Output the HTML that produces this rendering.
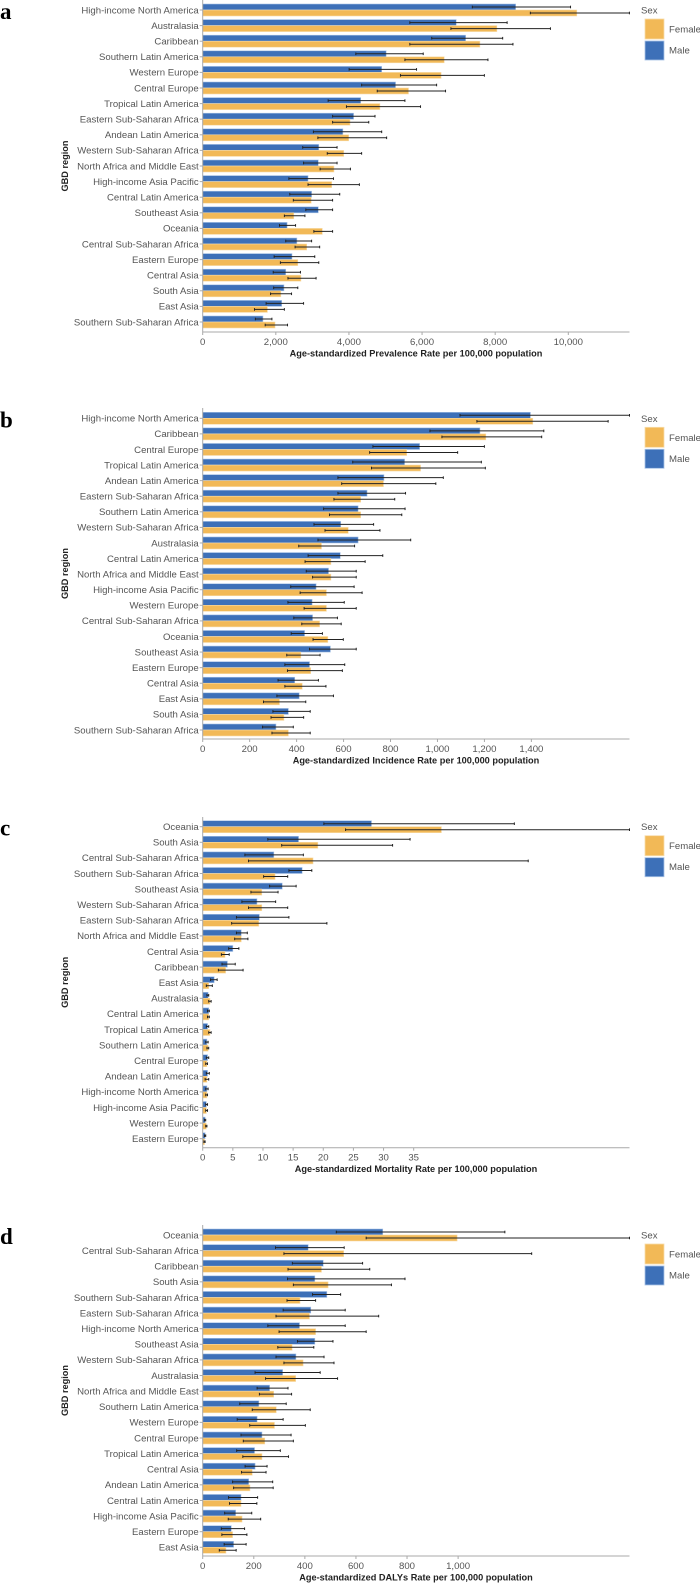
<!DOCTYPE html>
<html><head><meta charset="utf-8">
<style>
html,body{margin:0;padding:0;background:#fff;}
svg{display:block;font-family:"Liberation Sans",Arial,sans-serif;}
</style></head>
<body>
<svg id="chart" width="700" height="1584" viewBox="0 0 700 1584" xmlns="http://www.w3.org/2000/svg"></svg>
<script>
// ---- Panel a: Prevalence ----
const catsA=["High-income North America","Australasia","Caribbean","Southern Latin America","Western Europe","Central Europe","Tropical Latin America","Eastern Sub-Saharan Africa","Andean Latin America","Western Sub-Saharan Africa","North Africa and Middle East","High-income Asia Pacific","Central Latin America","Southeast Asia","Oceania","Central Sub-Saharan Africa","Eastern Europe","Central Asia","South Asia","East Asia","Southern Sub-Saharan Africa"];
const maleA=[8560,6935,7192,5018,4896,5275,4322,4127,3834,3175,3162,2881,2979,3162,2308,2576,2442,2271,2222,2161,1648];
const maleLoA=[7375,5665,6264,4188,4005,4347,3431,3553,3028,2735,2759,2357,2381,2820,2100,2271,1954,1929,1941,1734,1441];
const maleHiA=[10061,8327,8205,6032,5849,6398,5531,4713,4896,3675,3675,3578,3748,3553,2540,2979,3065,2674,2601,2759,1893];
const femaleA=[10232,8046,7582,6606,6520,5629,4847,4029,3993,3858,3590,3529,2967,2491,3272,2845,2601,2686,2137,1770,1978];
const femaleLoA=[8962,6789,5665,5531,5409,4774,3932,3553,3150,3407,3211,2881,2479,2234,3040,2527,2125,2332,1856,1416,1709];
const femaleHiA=[11672,9512,8486,7802,7705,6642,5958,4542,5031,4347,4041,4286,3553,2796,3553,3199,3175,3101,2430,2234,2320];
const ticksA=[0,2000,4000,6000,8000,10000];
const tickLabelsA=["0","2,000","4,000","6,000","8,000","10,000"];

// ---- Panel b: Incidence ----
const catsB=["High-income North America","Caribbean","Central Europe","Tropical Latin America","Andean Latin America","Eastern Sub-Saharan Africa","Southern Latin America","Western Sub-Saharan Africa","Australasia","Central Latin America","North Africa and Middle East","High-income Asia Pacific","Western Europe","Central Sub-Saharan Africa","Oceania","Southeast Asia","Eastern Europe","Central Asia","East Asia","South Asia","Southern Sub-Saharan Africa"];
const maleB=[1396,1181,924,860,772,700,662,588,662,586,536,483,466,468,434,544,455,392,411,365,312];
const maleLoB=[1096,968,725,639,576,576,515,474,491,449,441,375,363,388,377,455,350,321,316,299,255];
const maleHiB=[1818,1453,1200,1187,1025,864,862,728,886,767,654,645,603,574,510,654,605,493,557,458,386];
const femaleB=[1406,1206,869,928,770,673,673,620,506,546,546,527,527,498,533,418,460,424,327,346,365];
const femaleLoB=[1168,1019,711,719,592,559,540,521,409,436,468,415,432,422,470,358,361,350,259,291,295];
const femaleHiB=[1727,1444,1086,1204,993,818,848,755,647,692,654,679,654,590,599,500,595,525,439,430,458];
const ticksB=[0,200,400,600,800,1000,1200,1400];
const tickLabelsB=["0","200","400","600","800","1,000","1,200","1,400"];

// ---- Panel c: Mortality ----
const catsC=["Oceania","South Asia","Central Sub-Saharan Africa","Southern Sub-Saharan Africa","Southeast Asia","Western Sub-Saharan Africa","Eastern Sub-Saharan Africa","North Africa and Middle East","Central Asia","Caribbean","East Asia","Australasia","Central Latin America","Tropical Latin America","Southern Latin America","Central Europe","Andean Latin America","High-income North America","High-income Asia Pacific","Western Europe","Eastern Europe"];
const maleC=[28.0,15.9,11.8,16.5,13.2,9.0,9.4,6.4,5.0,4.1,1.9,0.9,1.0,0.8,0.7,0.8,0.8,0.7,0.6,0.4,0.4];
const maleLoC=[20.1,10.8,7.0,14.3,11.1,6.5,5.6,5.6,4.3,3.2,1.3,0.7,0.8,0.6,0.5,0.6,0.6,0.5,0.5,0.3,0.3];
const maleHiC=[51.7,34.4,16.7,18.1,15.5,12.1,14.3,7.4,6.0,5.4,2.4,1.0,1.1,1.0,0.9,1.0,1.1,0.9,0.8,0.5,0.5];
const femaleC=[39.6,19.1,18.3,12.0,9.8,9.8,9.3,6.4,3.7,3.8,1.0,1.2,1.0,1.2,0.9,0.7,0.7,0.7,0.6,0.6,0.3];
const femaleLoC=[23.7,13.1,7.6,10.1,8.0,7.6,4.8,5.3,3.1,2.6,0.6,1.0,0.8,1.0,0.7,0.5,0.4,0.5,0.5,0.5,0.2];
const femaleHiC=[70.8,31.5,54.0,14.1,12.5,14.1,20.6,7.5,4.4,6.7,1.6,1.4,1.1,1.4,1.0,0.8,1.0,0.8,0.8,0.7,0.4];
const ticksC=[0,5,10,15,20,25,30,35];
const tickLabelsC=["0","5","10","15","20","25","30","35"];

// ---- Panel d: DALYs ----
const catsD=["Oceania","Central Sub-Saharan Africa","Caribbean","South Asia","Southern Sub-Saharan Africa","Eastern Sub-Saharan Africa","High-income North America","Southeast Asia","Western Sub-Saharan Africa","Australasia","North Africa and Middle East","Southern Latin America","Western Europe","Central Europe","Tropical Latin America","Central Asia","Andean Latin America","Central Latin America","High-income Asia Pacific","Eastern Europe","East Asia"];
const maleD=[705,413,472,439,486,423,379,439,365,313,262,220,213,232,203,205,180,150,129,112,121];
const maleLoD=[523,285,351,332,430,315,255,371,287,205,213,145,135,150,133,166,117,101,86,73,84];
const maleHiD=[1183,554,626,792,540,558,558,510,475,460,334,327,315,346,304,252,274,215,192,164,170];
const femaleD=[996,552,465,491,381,418,442,350,393,364,278,288,281,243,232,194,185,150,154,117,91];
const femaleLoD=[640,318,334,355,330,287,299,294,318,246,222,194,184,159,157,152,121,105,100,75,65];
const femaleHiD=[1671,1288,654,739,442,689,640,435,514,528,348,421,402,355,336,248,276,212,227,173,131];
const ticksD=[0,200,400,600,800,1000];
const tickLabelsD=["0","200","400","600","800","1,000"];

const NS="http://www.w3.org/2000/svg";
const svg=document.getElementById('chart');
const MALE="#3d70b8", FEMALE="#f2b957", GRID="#a9a9a9", TXT="#555";
function mk(tag,attrs,parent){const e=document.createElementNS(NS,tag);for(const k in attrs)e.setAttribute(k,attrs[k]);(parent||svg).appendChild(e);return e;}

const panels=[
 {id:"a",letter:"a",top:0,first:10,last:322,axisY:332,max:11674,cats:catsA,m:maleA,mlo:maleLoA,mhi:maleHiA,f:femaleA,flo:femaleLoA,fhi:femaleHiA,ticks:ticksA,tl:tickLabelsA,title:"Age-standardized Prevalence Rate per 100,000 population"},
 {id:"b",letter:"b",top:408,first:418.3,last:730,axisY:739,max:1818,cats:catsB,m:maleB,mlo:maleLoB,mhi:maleHiB,f:femaleB,flo:femaleLoB,fhi:femaleHiB,ticks:ticksB,tl:tickLabelsB,title:"Age-standardized Incidence Rate per 100,000 population"},
 {id:"c",letter:"c",top:817,first:826.7,last:1138.7,axisY:1147.7,max:70.8,cats:catsC,m:maleC,mlo:maleLoC,mhi:maleHiC,f:femaleC,flo:femaleLoC,fhi:femaleHiC,ticks:ticksC,tl:tickLabelsC,title:"Age-standardized Mortality Rate per 100,000 population"},
 {id:"d",letter:"d",top:1225,first:1235,last:1547.3,axisY:1556,max:1671,cats:catsD,m:maleD,mlo:maleLoD,mhi:maleHiD,f:femaleD,flo:femaleLoD,fhi:femaleHiD,ticks:ticksD,tl:tickLabelsD,title:"Age-standardized DALYs Rate per 100,000 population"}
];
const X0=202.7, X1=629.5;

panels.forEach(p=>{
  const g=mk('g',{});
  
  
  const x=v=>X0+(v/p.max)*(X1-X0);
  const step=(p.last-p.first)/(p.cats.length-1);
  const y=i=>p.first+i*step;
  // panel letter
  const L=mk('text',{x:0,y:p.first+9,'font-family':'"Liberation Serif",serif','font-weight':'bold','font-size':'23',fill:'#000'},g);
  L.textContent=p.letter;
  
  
  // bars
  p.cats.forEach((c,i)=>{
    const cy=y(i);
    const mb=mk('rect',{x:X0,y:cy-6,width:Math.max(0,x(p.m[i])-X0),height:6,fill:MALE,stroke:'#a9c3e6','stroke-width':0.6},g);
    
    
    const fb=mk('rect',{x:X0,y:cy,width:Math.max(0,x(p.f[i])-X0),height:6,fill:FEMALE,stroke:'#f8dcaa','stroke-width':0.6},g);
    
    
    [[p.mlo[i],p.mhi[i],cy-3],[p.flo[i],p.fhi[i],cy+3]].forEach((e,k)=>{
      const eg=mk('g',{stroke:'#222','stroke-width':1},g);
      
      
      mk('line',{x1:x(e[0]),x2:x(e[1]),y1:e[2],y2:e[2]},eg);
      mk('line',{x1:x(e[0]),x2:x(e[0]),y1:e[2]-1.3,y2:e[2]+1.3},eg);
      mk('line',{x1:x(e[1]),x2:x(e[1]),y1:e[2]-1.3,y2:e[2]+1.3},eg);
    });
    mk('line',{x1:X0-3,x2:X0,y1:cy,y2:cy,stroke:GRID,'stroke-width':1},g);
    const t=mk('text',{x:X0-4,y:cy+3.3,'text-anchor':'end','font-size':'9.6',fill:TXT},g);
    t.textContent=c;
    
    
  });
  // axes
  const ya=mk('line',{x1:X0,x2:X0,y1:p.top,y2:p.axisY,stroke:GRID,'stroke-width':1},g);
  
  
  const xa=mk('line',{x1:X0,x2:X1,y1:p.axisY,y2:p.axisY,stroke:GRID,'stroke-width':1},g);
  
  
  p.ticks.forEach((tv,i)=>{
    mk('line',{x1:x(tv),x2:x(tv),y1:p.axisY,y2:p.axisY+3,stroke:GRID,'stroke-width':1},g);
    const t=mk('text',{x:x(tv),y:p.axisY+13,'text-anchor':'middle','font-size':'9.6',fill:TXT},g);
    t.textContent=p.tl[i];
    
    
  });
  const xt=mk('text',{x:416,y:p.axisY+24.5,'text-anchor':'middle','font-size':'9.2','font-weight':'bold',fill:'#222'},g);
  xt.textContent=p.title;
  
  
  const cyMid=(p.top+p.axisY)/2;
  const yt=mk('text',{x:0,y:0,transform:`translate(68,${cyMid}) rotate(-90)`,'text-anchor':'middle','font-size':'9.2','font-weight':'bold',fill:'#222'},g);
  yt.textContent="GBD region";
  
  
  // legend
  const lg=mk('g',{},g);
  
  
  const st=mk('text',{x:641,y:p.first+3.5,'font-size':'9.6',fill:TXT},lg);
  st.textContent="Sex";
  const fs=mk('rect',{x:645,y:p.first+9,width:19,height:20,fill:FEMALE,stroke:'#f8dcaa','stroke-width':0.8},lg);
  
  
  const ft=mk('text',{x:669,y:p.first+22.5,'font-size':'9.6',fill:TXT},lg);
  ft.textContent="Female";
  const ms=mk('rect',{x:645,y:p.first+31,width:19,height:19,fill:MALE,stroke:'#a9c3e6','stroke-width':0.8},lg);
  
  
  const mt=mk('text',{x:669,y:p.first+43.5,'font-size':'9.6',fill:TXT},lg);
  mt.textContent="Male";
});
</script>
</body></html>
